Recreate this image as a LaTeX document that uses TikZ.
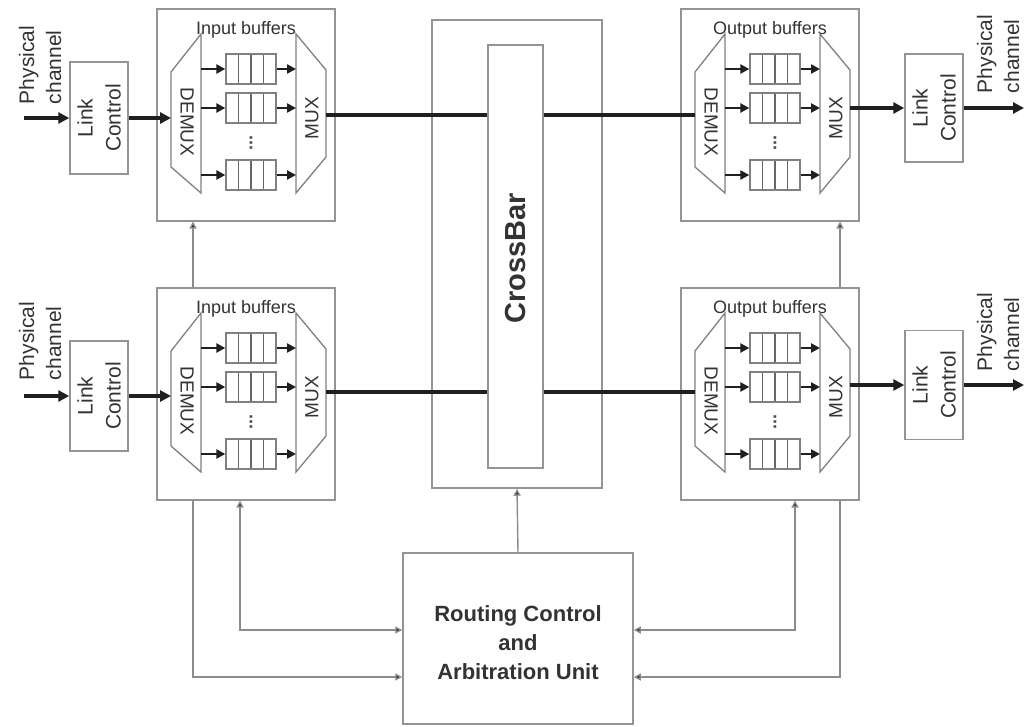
\documentclass[tikz,border=0pt]{standalone}
\usepackage{fontspec}
\setmainfont{Liberation Sans}
\usetikzlibrary{arrows.meta,calc}
\pgfdeclarelayer{bg}
\pgfsetlayers{bg,main}
\tikzset{
  box/.style={draw=black!42, line width=1.5pt, fill=white, inner sep=0pt},
  plainbox/.style={draw=black!42, line width=1.5pt, inner sep=0pt},
  mx/.style={draw=black!50, line width=1.3pt, fill=white},
  data/.style={line width=3.2pt, draw=black!88, -{Triangle[length=11pt,width=11pt]}},
  dataplain/.style={line width=3.2pt, draw=black!88},
  ctrl/.style={line width=1.4pt, draw=black!45, {Triangle[length=7pt,width=7pt,fill=black!85]}-{Triangle[length=7pt,width=7pt,fill=black!85]}},
  ctrlup/.style={line width=1.4pt, draw=black!45, -{Triangle[length=7pt,width=7pt,fill=black!85]}},
  qarrow/.style={line width=2.6pt, draw=black!88, -{Triangle[length=9pt,width=9pt]}},
  queue/.style={draw=black!50, line width=1.3pt, fill=white, minimum width=50pt, minimum height=30pt, inner sep=0pt,
    path picture={\foreach \f in {0.25,0.5,0.75}{\draw[black!60, line width=1.3pt]
      ($(path picture bounding box.south west)!\f!(path picture bounding box.south east)$) --
      ($(path picture bounding box.north west)!\f!(path picture bounding box.north east)$);}}},
  lbl/.style={font=\fontsize{18}{20}\selectfont, text=black!80, inner sep=0pt},
  mxtxt/.style={font=\fontsize{19}{21}\selectfont, text=black!80, inner sep=0pt},
  txt/.style={font=\fontsize{21}{28}\selectfont, text=black!80, align=center, inner sep=0pt},
  pctxt/.style={font=\fontsize{21}{27}\selectfont, text=black!80, align=left, inner sep=0pt, rotate=90},
  dots/.style={font=\bfseries\fontsize{18}{18}\selectfont, text=black!70, inner sep=0pt, rotate=90},
  boldtxt/.style={font=\bfseries\fontsize{22}{29}\selectfont, text=black!80, align=center, inner sep=0pt},
}
\newcommand\bufblock[4]{% id, cx, top, label
  \node[box, minimum width=178pt, minimum height=212pt, anchor=north] (#1) at (#2,#3) {};
  \node[lbl] (#1lbl) at (#2,#3+22) {#4};
  \draw[mx] (#2-75,#3+64) -- (#2-45,#3+26) -- (#2-45,#3+185) -- (#2-75,#3+159) -- cycle;
  \draw[mx] (#2+50,#3+26) -- (#2+80,#3+62) -- (#2+80,#3+149) -- (#2+50,#3+185) -- cycle;
  \node[mxtxt, rotate=-90] (#1dt) at (#2-59,#3+114) {DEMUX};
  \node[mxtxt, rotate=90] (#1mt) at (#2+66,#3+110) {MUX};
  \coordinate (#1dl) at (#2-75,#3);
  \coordinate (#1dr) at (#2-45,#3);
  \coordinate (#1ml) at (#2+50,#3);
  \coordinate (#1mr) at (#2+80,#3);
  \foreach \k/\yy in {1/61,2/100,3/167}{%
    \node[queue] (#1q\k) at (#2+5,#3+\yy) {};
    \draw[qarrow] (#1q\k.west -| #1dr) -- (#1q\k.west);
    \draw[qarrow] (#1q\k.east) -- (#1q\k.east -| #1ml);
  }
  \node[dots] (#1dots) at (#2+5,#3+135) {...};
}
\begin{document}
\begin{tikzpicture}[x=1pt,y=-1pt]
\useasboundingbox (0,0) rectangle (1024,726);

% crossbar
\node[plainbox, minimum width=170pt, minimum height=468pt] (xbout) at (517,254) {};
\node[box, minimum width=55pt, minimum height=423pt] (xbin) at (515.5,256.5) {};
\node[font=\bfseries\fontsize{29}{30}\selectfont, text=black!80, rotate=90, inner sep=0pt] (xbtxt) at (515.5,258) {CrossBar};

% buffer blocks
\bufblock{ib1}{246}{8}{Input buffers}
\bufblock{ib2}{246}{287}{Input buffers}
\bufblock{ob1}{770}{8}{Output buffers}
\bufblock{ob2}{770}{287}{Output buffers}

% link controls
\node[box, minimum width=58pt, minimum height=112pt] (lc1) at (99,118) {};
\node[txt, rotate=90] (lc1t) at (99,118) {Link\\Control};
\node[box, minimum width=58pt, minimum height=110pt] (lc2) at (99,396) {};
\node[txt, rotate=90] (lc2t) at (99,396) {Link\\Control};
\node[box, minimum width=58pt, minimum height=108pt] (olc1) at (934,108) {};
\node[txt, rotate=90] (olc1t) at (934,108) {Link\\Control};
\node[box, minimum width=58pt, minimum height=109pt] (olc2) at (934,385) {};
\node[txt, rotate=90] (olc2t) at (934,385) {Link\\Control};

% physical channel labels
\node[pctxt] (pc1) at (40,65) {Physical\\channel};
\node[pctxt] (pc2) at (40,341) {Physical\\channel};
\node[pctxt] (pc3) at (998,54) {Physical\\channel};
\node[pctxt] (pc4) at (998,332) {Physical\\channel};

% routing unit
\node[box, minimum width=230pt, minimum height=171pt] (rc) at (518,638.5) {};
\node[boldtxt] (rct) at (518,643) {Routing Control\\and\\Arbitration Unit};

% reference coordinates
\coordinate (r1) at (0,115);
\coordinate (r2) at (0,392);
\coordinate (pin1) at (24,118);
\coordinate (pin2) at (24,396);
\coordinate (pout1) at (1024,108);
\coordinate (pout2) at (1024,385);
\coordinate (yA) at (0,677);
\coordinate (yB) at (0,630);
\coordinate (cL1) at (193,0);
\coordinate (cL2) at (240,0);
\coordinate (cR1) at (840,0);
\coordinate (cR2) at (795,0);

% data path
\draw[data] (pin1) -- (lc1.west);
\draw[data] (pin2) -- (lc2.west);
\draw[data] (lc1.east) -- (lc1.east -| ib1dl);
\draw[data] (lc2.east) -- (lc2.east -| ib2dl);
\draw[dataplain] (ib1mr |- r1) -- (xbin.west |- r1);
\draw[dataplain] (ib2mr |- r2) -- (xbin.west |- r2);
\draw[dataplain] (xbin.east |- r1) -- (ob1dl |- r1);
\draw[dataplain] (xbin.east |- r2) -- (ob2dl |- r2);
\draw[data] (ob1mr |- olc1) -- (olc1.west);
\draw[data] (ob2mr |- olc2) -- (olc2.west);
\draw[data] (olc1.east) -- (pout1);
\draw[data] (olc2.east) -- (pout2);

% control paths
\begin{pgfonlayer}{bg}
\draw[ctrlup] (rc.north) -- (xbout.south);
\draw[ctrl] (rc.west |- yA) -| (ib1.south -| cL1);
\draw[ctrl] (rc.west |- yB) -| (ib2.south -| cL2);
\draw[ctrl] (rc.east |- yA) -| (ob1.south -| cR1);
\draw[ctrl] (rc.east |- yB) -| (ob2.south -| cR2);
\end{pgfonlayer}
\end{tikzpicture}
\end{document}
